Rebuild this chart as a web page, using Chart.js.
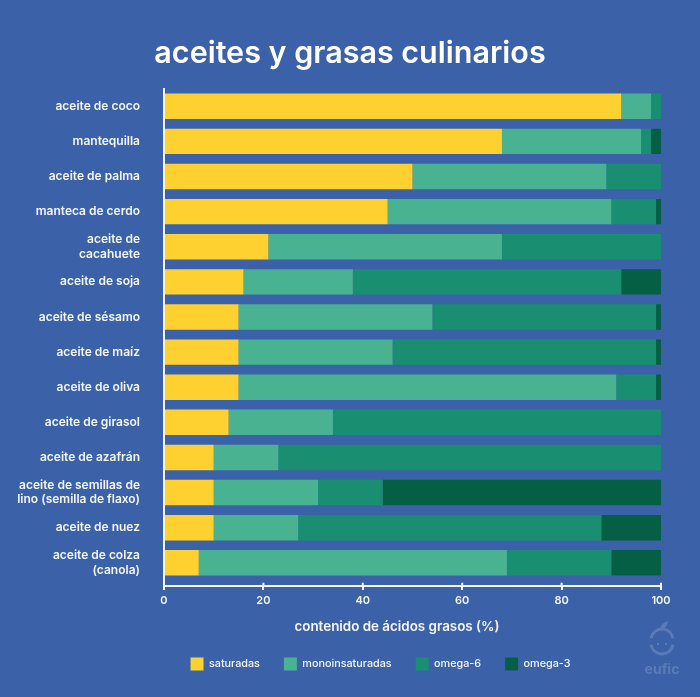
<!DOCTYPE html>
<html>
<head>
<meta charset="utf-8">
<title>aceites y grasas culinarios</title>
<script src="https://cdn.jsdelivr.net/npm/chart.js@4"></script>
<style>
  html, body { margin: 0; padding: 0; background: #3b62a8; }
  canvas { display: block; }
</style>
</head>
<body>
<canvas id="chart" width="700" height="697"></canvas>
<script>
const categories = [
  'aceite de coco', 'mantequilla', 'aceite de palma', 'manteca de cerdo',
  ['aceite de', 'cacahuete'], 'aceite de soja', 'aceite de sésamo', 'aceite de maíz',
  'aceite de oliva', 'aceite de girasol', 'aceite de azafrán',
  ['aceite de semillas de', 'lino (semilla de flaxo)'], 'aceite de nuez',
  ['aceite de colza', '(canola)']
];
const saturadas = [92, 68, 50, 45, 21, 16, 15, 15, 15, 13, 10, 10, 10, 7];
const monoinsaturadas = [6, 28, 39, 45, 47, 22, 39, 31, 76, 21, 13, 21, 17, 62];
const omega6 = [2, 2, 11, 9, 32, 54, 45, 53, 8, 66, 77, 13, 61, 21];
const omega3 = [0, 2, 0, 1, 0, 8, 1, 1, 1, 0, 0, 56, 12, 10];

const WHITE = '#f4f6fa';
const FONT = 'Inter';
const MARK = '#5a7ab8';

// things the library has no option for: axis title offset, legend offset, ticks, logo
const extras = {
  id: 'extras',
  afterLayout(chart) {
    const lg = chart.legend;
    lg.left += 50; lg.right += 50;
    lg.top += 53; lg.bottom += 53;
    // title centred on the page, not on the padded box
    chart.titleBlock.left += 19.5;
    chart.titleBlock.right += 19.5;
  },
  afterDraw(chart) {
    const c = chart.ctx, x = chart.scales.x, y = chart.scales.y;
    const axisY = y.getPixelForValue(13.654);
    c.save();
    c.strokeStyle = WHITE;
    c.lineWidth = 2;
    c.beginPath();
    c.moveTo(x.left, chart.chartArea.bottom);
    c.lineTo(x.left, axisY);
    x.ticks.forEach(t => {
      const px = x.getPixelForValue(t.value);
      c.moveTo(px, axisY);
      c.lineTo(px, axisY - 3);
    });
    c.stroke();

    c.fillStyle = WHITE;
    c.font = '600 13.4px ' + FONT;
    c.textAlign = 'center';
    c.textBaseline = 'middle';
    c.fillText('contenido de ácidos grasos (%)', 397, 627);

    // eufic logo
    c.strokeStyle = MARK;
    c.fillStyle = MARK;
    c.lineWidth = 3;
    c.beginPath();
    c.arc(662, 640, 11, Math.PI * 1.05, Math.PI * 1.95);
    c.stroke();
    c.beginPath();
    c.arc(662, 643, 11, Math.PI * 0.05, Math.PI * 0.95);
    c.stroke();
    c.beginPath();
    c.moveTo(660, 629);
    c.quadraticCurveTo(661, 623, 668, 621);
    c.quadraticCurveTo(668, 628, 660, 629);
    c.fill();
    c.beginPath();
    c.arc(658, 644, 1.2, 0, Math.PI * 2);
    c.arc(666, 644, 1.2, 0, Math.PI * 2);
    c.fill();
    c.font = '700 14px ' + FONT;
    c.fillText('eufic', 662, 670);
    c.restore();
  }
};

new Chart(document.getElementById('chart'), {
  type: 'bar',
  data: {
    labels: categories,
    datasets: [
      { label: 'saturadas', data: saturadas, backgroundColor: '#ffd130' },
      { label: 'monoinsaturadas', data: monoinsaturadas, backgroundColor: '#48b291' },
      { label: 'omega-6', data: omega6, backgroundColor: '#1a8e70' },
      { label: 'omega-3', data: omega3, backgroundColor: '#045f45' }
    ]
  },
  options: {
    indexAxis: 'y',
    responsive: false,
    animation: false,
    barPercentage: 0.725,
    categoryPercentage: 1,
    layout: { padding: { left: 0, right: 39, top: 0, bottom: 69.6 } },
    scales: {
      x: {
        stacked: true,
        min: 0,
        max: 100,
        position: { y: 13.654 },
        grid: { display: true, drawOnChartArea: false, color: WHITE, lineWidth: 2, tickLength: 3 },
        border: { display: true, color: WHITE, width: 2 },
        ticks: {
          stepSize: 20,
          color: WHITE,
          padding: 5,
          maxRotation: 0,
          font: { family: FONT, size: 11, weight: '600' }
        }
      },
      y: {
        stacked: true,
        afterFit(scale) { scale.width = 164; },
        grid: { display: false },
        border: { display: true, color: WHITE, width: 2 },
        ticks: {
          color: WHITE,
          padding: 16,
          autoSkip: false,
          font: { family: FONT, size: 12, weight: '600' }
        }
      }
    },
    plugins: {
      title: {
        display: true,
        text: 'aceites y grasas culinarios',
        color: '#ffffff',
        font: { family: FONT, size: 30.5, weight: '600' },
        padding: { top: 35.3, bottom: 16.8 }
      },
      legend: {
        position: 'bottom',
        labels: {
          color: WHITE,
          boxWidth: 13,
          boxHeight: 13,
          padding: 24,
          font: { family: FONT, size: 10.8, weight: '500' }
        }
      },
      tooltip: { enabled: false }
    }
  },
  plugins: [extras]
});
</script>
</body>
</html>
